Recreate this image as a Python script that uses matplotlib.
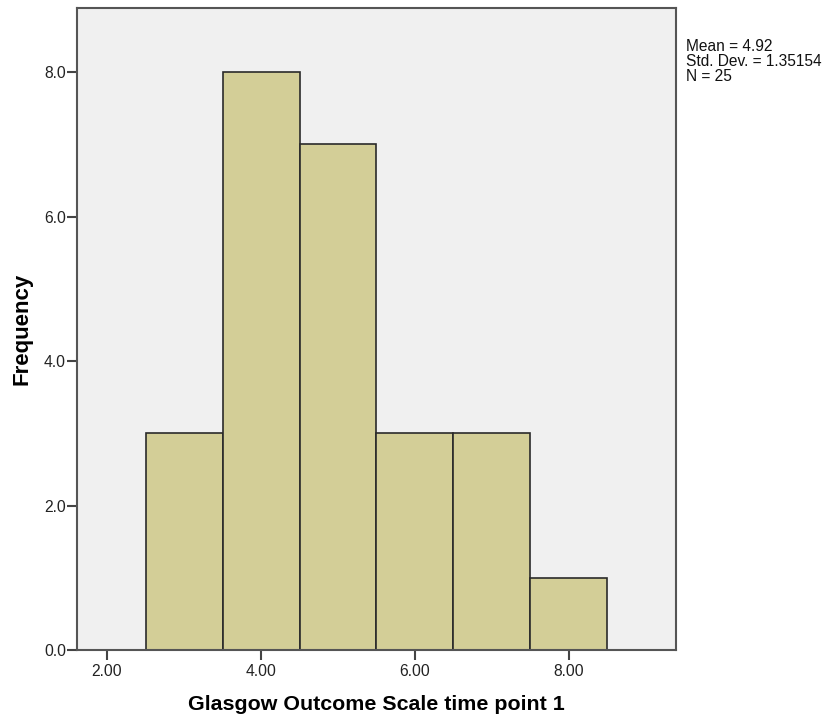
import numpy as np
import matplotlib.pyplot as plt

plt.rcParams['font.family'] = ['Liberation Sans', 'DejaVu Sans']

# Datos del histograma
bin_centers = [3, 4, 5, 6, 7, 8]
frequencies = [3, 8, 7, 3, 3, 1]
x_ticks = [2, 4, 6, 8]
x_tick_labels = ['2.00', '4.00', '6.00', '8.00']
y_ticks = [0, 2, 4, 6, 8]
y_tick_labels = ['0.0', '2.0', '4.0', '6.0', '8.0']
stats_text = 'Mean = 4.92\nStd. Dev. = 1.35154\nN = 25'

fig = plt.figure(figsize=(8.29, 7.25), dpi=100)
ax = fig.add_axes([77 / 829, 1 - 650 / 725, (676 - 77) / 829, (650 - 8) / 725])
ax.set_facecolor('#f0f0f0')

ax.bar(bin_centers, frequencies, width=1.0, color='#d3ce97', edgecolor='#2a2a2a', linewidth=1.2, zorder=2)

ax.set_xlim(1.61, 9.39)
ax.set_ylim(0, 8.886)
ax.set_xticks(x_ticks)
ax.set_xticklabels(x_tick_labels)
ax.set_yticks(y_ticks)
ax.set_yticklabels(y_tick_labels)
ax.tick_params(direction='out', length=7, width=1.5, color='#444444', labelsize=11.3, labelcolor='#222222')
ax.tick_params(axis='y', pad=1)
ax.tick_params(axis='x', pad=3)

for s in ax.spines.values():
    s.set_color('#555555')
    s.set_linewidth(1.5)

ax.set_xlabel('Glasgow Outcome Scale time point 1', fontsize=15.4, fontweight='bold')
ax.set_ylabel('Frequency', fontsize=16, fontweight='bold')
ax.xaxis.set_label_coords(0.5, -(705 - 650) / 642, transform=ax.transAxes)
ax.xaxis.label.set_va('center')
ax.yaxis.set_label_coords(-(77 - 22) / 599, 0.5, transform=ax.transAxes)
ax.yaxis.label.set_va('center')

fig.text(686 / 829, 1 - 39 / 725, stats_text, fontsize=11.2, va='top', ha='left', linespacing=1.0, color='#111111')

fig.savefig('out.png', dpi=100)
